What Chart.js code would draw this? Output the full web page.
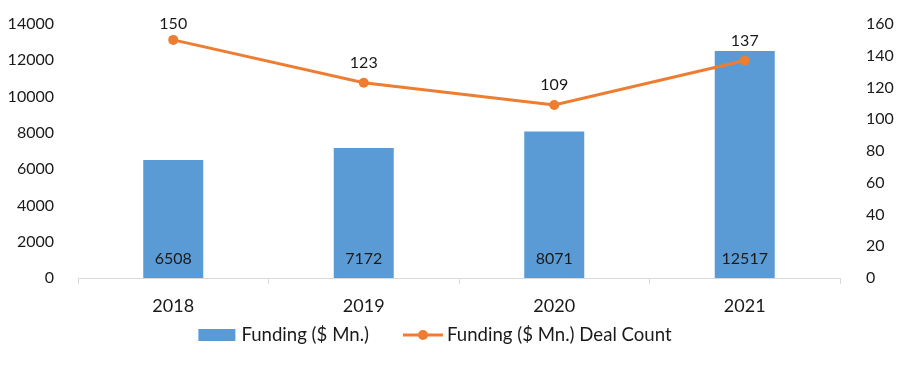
<!DOCTYPE html>
<html>
<head>
<meta charset="utf-8">
<script src="https://cdn.jsdelivr.net/npm/chart.js@4"></script>
<style>
html,body{margin:0;padding:0;background:#fff;}
#wrap{width:900px;height:368px;position:relative;}
</style>
</head>
<body>
<div id="wrap"><canvas id="c" width="900" height="368"></canvas></div>
<script>
const categories = ['2018', '2019', '2020', '2021'];
const fundingValues = [6508, 7172, 8071, 12517];
const dealCounts = [150, 123, 109, 137];
const leftTicks = [0, 2000, 4000, 6000, 8000, 10000, 12000, 14000];
const rightTicks = [0, 20, 40, 60, 80, 100, 120, 140, 160];
const seriesNames = ['Funding ($ Mn.)', 'Funding ($ Mn.) Deal Count'];

const BLUE = '#5B9BD5';
const ORANGE = '#ED7D31';
const TEXT = '#1a1a1a';
const FONT = 'Lato';

const labelPlugin = {
  id: 'valueLabels',
  afterDatasetsDraw(chart) {
    const ctx = chart.ctx;
    ctx.save();
    ctx.font = '16px ' + FONT;
    ctx.fillStyle = TEXT;
    ctx.textAlign = 'center';
    ctx.textBaseline = 'middle';
    const y0 = chart.scales.y.getPixelForValue(0);
    chart.getDatasetMeta(0).data.forEach((bar, i) => {
      ctx.fillText(String(fundingValues[i]), bar.x, y0 - 19);
    });
    chart.getDatasetMeta(1).data.forEach((pt, i) => {
      ctx.fillText(String(dealCounts[i]), pt.x, Math.max(pt.y - 20, chart.chartArea.top));
    });
    ctx.restore();
  }
};

const legendPlugin = {
  id: 'comboLegend',
  afterDraw(chart) {
    const ctx = chart.ctx;
    ctx.save();
    ctx.font = '18.6px ' + FONT;
    ctx.textBaseline = 'middle';
    ctx.textAlign = 'left';
    const cy = 335;
    const sw0 = 37, sw1 = 40, gapT = 6, gapI = 34;
    const t0 = ctx.measureText(seriesNames[0]).width;
    const t1 = ctx.measureText(seriesNames[1]).width;
    const total = sw0 + gapT + t0 + gapI + sw1 + 4 + t1;
    let x = 435 - total / 2;
    ctx.fillStyle = BLUE;
    ctx.fillRect(x, cy - 6, sw0, 12);
    x += sw0 + gapT;
    ctx.fillStyle = TEXT;
    ctx.fillText(seriesNames[0], x, cy);
    x += t0 + gapI;
    ctx.strokeStyle = ORANGE; ctx.lineWidth = 3;
    ctx.beginPath(); ctx.moveTo(x, cy); ctx.lineTo(x + sw1, cy); ctx.stroke();
    ctx.fillStyle = ORANGE;
    ctx.beginPath(); ctx.arc(x + sw1 / 2, cy, 5, 0, Math.PI * 2); ctx.fill();
    x += sw1 + 4;
    ctx.fillStyle = TEXT;
    ctx.fillText(seriesNames[1], x, cy);
    ctx.restore();
  }
};

new Chart(document.getElementById('c'), {
  data: {
    labels: categories,
    datasets: [
      {
        type: 'bar',
        label: seriesNames[0],
        data: fundingValues,
        backgroundColor: BLUE,
        yAxisID: 'y',
        barPercentage: 0.315,
        categoryPercentage: 1,
        order: 2
      },
      {
        type: 'line',
        label: seriesNames[1],
        data: dealCounts,
        borderColor: ORANGE,
        backgroundColor: ORANGE,
        borderWidth: 3,
        pointRadius: 5,
        pointBackgroundColor: ORANGE,
        pointBorderWidth: 0,
        tension: 0,
        yAxisID: 'y1',
        order: 1
      }
    ]
  },
  options: {
    responsive: false,
    animation: false,
    devicePixelRatio: 1,
    layout: { padding: { top: 24, bottom: 52, left: 0, right: 0 } },
    plugins: {
      tooltip: { enabled: false },
      legend: { display: false }
    },
    scales: {
      x: {
        offset: true,
        grid: { offset: true, drawOnChartArea: false, tickLength: 6, color: '#d9d9d9' },
        border: { color: '#d9d9d9' },
        ticks: { color: TEXT, font: { family: FONT, size: 18 }, padding: 11 },
        afterFit(s) { s.height = 38; }
      },
      y: {
        position: 'left',
        min: 0, max: 14000,
        afterBuildTicks(s) { s.ticks = leftTicks.map(v => ({ value: v })); },
        grid: { display: false },
        border: { display: false },
        ticks: { color: TEXT, font: { family: FONT, size: 16 }, padding: 16, callback: v => String(v) },
        afterFit(s) { s.width = 78; s.paddingTop = 0; s.paddingBottom = 0; }
      },
      y1: {
        position: 'right',
        min: 0, max: 160,
        afterBuildTicks(s) { s.ticks = rightTicks.map(v => ({ value: v })); },
        grid: { display: false },
        border: { display: false },
        ticks: { color: TEXT, font: { family: FONT, size: 16 }, padding: 18, callback: v => String(v) },
        afterFit(s) { s.width = 60; s.paddingTop = 0; s.paddingBottom = 0; }
      }
    }
  },
  plugins: [labelPlugin, legendPlugin]
});
</script>
</body>
</html>
